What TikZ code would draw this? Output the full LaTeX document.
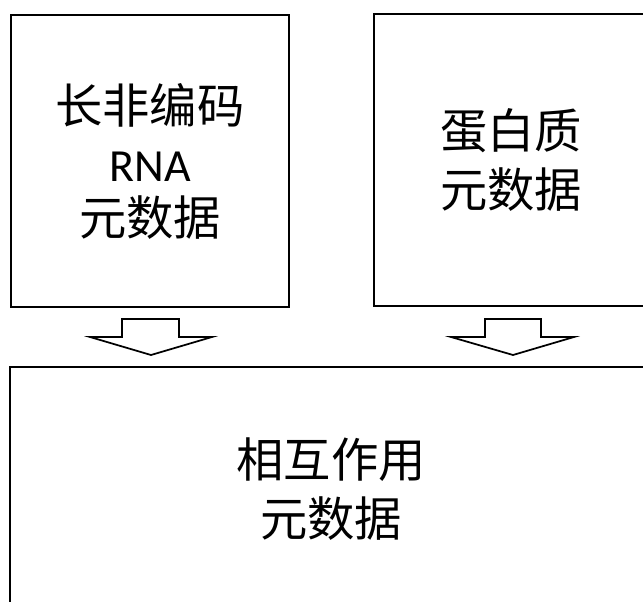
\documentclass[tikz,border=0pt]{standalone}
\usepackage{fontspec}
\newfontfamily\cjk{Noto Sans CJK SC}
\newfontfamily\lat{Carlito}
\begin{document}
\begin{tikzpicture}[x=0.75pt,y=-0.75pt,
  box/.style={draw=black,line width=1.5pt,fill=white,align=center,inner sep=0pt,
    font=\fontsize{35.5pt}{44pt}\selectfont\cjk},
  blockarrow/.style={draw=black,line width=1.3pt,fill=white,line join=miter}]
\useasboundingbox (0,0) rectangle (643,602);
\begin{scope}
\clip (0,0) rectangle (643,602);
\node[box,minimum width=208.5pt,minimum height=219pt] (lnc) at (150,161)
  {长非编码\\[0pt]{\lat\fontsize{34.5pt}{40pt}\selectfont RNA}\\[-4pt]元数据};
\node[box,minimum width=205.5pt,minimum height=219pt] (prot) at (511,160)
  {蛋白质\\元数据};
\node[box,minimum width=481.5pt,minimum height=183pt] (inter) at (331,489)
  {相互作用\\元数据};
\end{scope}
\draw[blockarrow] (122,319) -- (179,319) -- (179,337) -- (212,337) -- (151,355)
  -- (90,337) -- (122,337) -- cycle;
\draw[blockarrow] (485,319) -- (541,319) -- (541,337) -- (574,337) -- (513,355)
  -- (451,337) -- (485,337) -- cycle;
\end{tikzpicture}
\end{document}
